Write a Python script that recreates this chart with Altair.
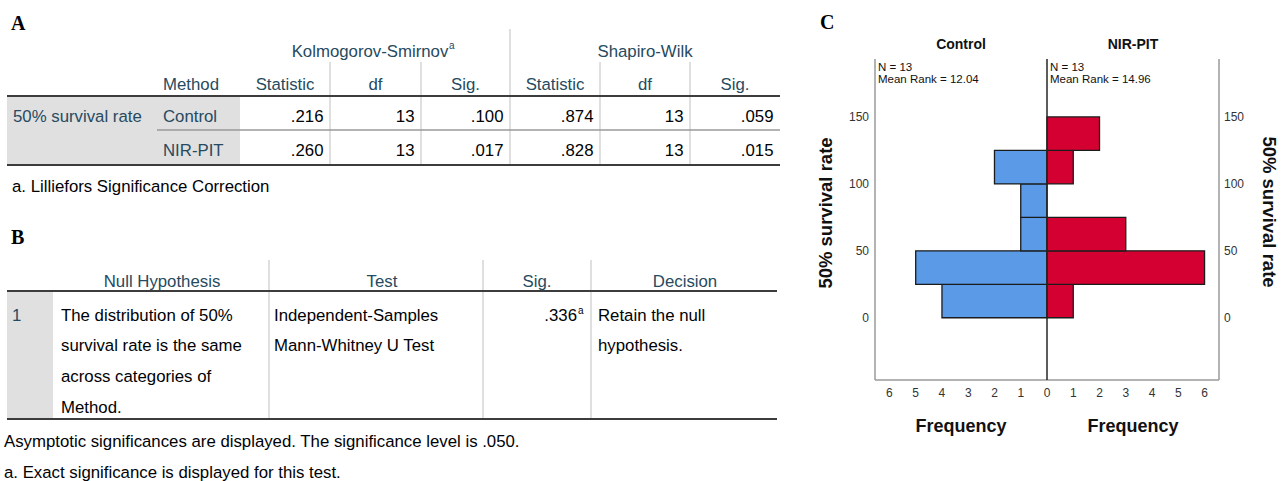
import altair as alt
import pandas as pd

# ---------------- data ----------------
# Table A (Tests of normality)
ks_title = "Kolmogorov-Smirnov"
sw_title = "Shapiro-Wilk"
col_headers = ["Statistic", "df", "Sig.", "Statistic", "df", "Sig."]
variable = "50% survival rate"
methods = ["Control", "NIR-PIT"]
ks_stat = [".216", ".260"]
ks_df = ["13", "13"]
ks_sig = [".100", ".017"]
sw_stat = [".874", ".828"]
sw_df = ["13", "13"]
sw_sig = [".059", ".015"]
footnote_a = "a. Lilliefors Significance Correction"

# Table B (Hypothesis test summary)
b_headers = ["Null Hypothesis", "Test", "Sig.", "Decision"]
null_hyp = ["The distribution of 50%", "survival rate is the same", "across categories of", "Method."]
test_name = ["Independent-Samples", "Mann-Whitney U Test"]
b_sig = ".336"
decision = ["Retain the null", "hypothesis."]
footnote_b = ["Asymptotic significances are displayed. The significance level is .050.",
              "a. Exact significance is displayed for this test."]

# Panel C (population-pyramid histogram)
bin_edges = [0, 25, 50, 75, 100, 125, 150]
control_freq = [4, 5, 1, 1, 2, 0]
nirpit_freq = [1, 6, 3, 0, 1, 2]
groups = ["Control", "NIR-PIT"]
n_text = ["N = 13", "N = 13"]
rank_text = ["Mean Rank = 12.04", "Mean Rank = 14.96"]
y_ticks = [0, 50, 100, 150]
x_ticks = [-6, -5, -4, -3, -2, -1, 0, 1, 2, 3, 4, 5, 6]

# ---------------- styles / layout ----------------
SANS = "Liberation Sans"
SERIF = "Liberation Serif"
HDR = "#264a60"
TXT = "#010205"
FS = 16.8
BLUE = "#5a9ae6"
RED = "#d50032"

cells = []


def cell(text, px, py, align="left", col=TXT, fs=FS, weight="normal", font=SANS):
    cells.append(dict(text=text, px=px, py=py, align=align, col=col, fs=fs, weight=weight, font=font))


# Table A
colA_bounds = [240, 330, 421, 510, 600, 690, 780]
rowA_y = [117, 151]
cell("A", 11, 24, fs=20, weight="bold", font=SERIF, col="#000000")
cell(ks_title, 370, 52, "center", HDR)
cell("a", 449, 46, col=HDR, fs=10)
cell(sw_title, 645, 52, "center", HDR)
cell("Method", 163, 85, col=HDR)
for i, h in enumerate(col_headers):
    cell(h, (colA_bounds[i] + colA_bounds[i + 1]) / 2, 85, "center", HDR)
cell(variable, 13, rowA_y[0], col=HDR)
for r, m in enumerate(methods):
    cell(m, 163, rowA_y[r], col=HDR)
    vals = [ks_stat[r], ks_df[r], ks_sig[r], sw_stat[r], sw_df[r], sw_sig[r]]
    for i, v in enumerate(vals):
        cell(v, colA_bounds[i + 1] - 6.5, rowA_y[r], "right")
cell(footnote_a, 12, 187)

# Table B
b_centers = [162, 382, 537, 685]
line_y = [316, 346, 377, 408]
cell("B", 11, 238, fs=20, weight="bold", font=SERIF, col="#000000")
for h, cx in zip(b_headers, b_centers):
    cell(h, cx, 282, "center", HDR)
cell("1", 12, line_y[0], col=HDR)
for t, yy in zip(null_hyp, line_y):
    cell(t, 61, yy)
for t, yy in zip(test_name, line_y):
    cell(t, 274, yy)
cell(b_sig, 577, line_y[0], "right")
cell("a", 578, line_y[0] - 5, fs=10)
for t, yy in zip(decision, line_y):
    cell(t, 598, yy)
cell(footnote_b[0], 4, 442)
cell(footnote_b[1], 4, 473)

# Panel label C
cell("C", 820, 23, fs=20, weight="bold", font=SERIF, col="#000000")

cells_df = pd.DataFrame(cells)

PX = alt.X("px:Q", scale=None, axis=None)
PY = alt.Y("py:Q", scale=None, axis=None)

text_layers = []
for (align, weight, font), sub in cells_df.groupby(["align", "weight", "font"]):
    text_layers.append(
        alt.Chart(sub).mark_text(align=align, baseline="middle", fontWeight=weight, font=font).encode(
            x=PX, y=PY, text="text:N",
            color=alt.Color("col:N", scale=None),
            size=alt.Size("fs:Q", scale=None),
        )
    )

# table shading
shade_df = pd.DataFrame([
    dict(x=7, x2=240, y=96, y2=165),
    dict(x=7, x2=53, y=291, y2=419),
])
shade = alt.Chart(shade_df).mark_rect(color="#e0e0e0").encode(
    x=alt.X("x:Q", scale=None, axis=None), x2="x2:Q",
    y=alt.Y("y:Q", scale=None, axis=None), y2="y2:Q")

# table rules
rules = []
for xx in [330, 421, 600, 690]:
    rules.append(dict(x=xx, x2=xx, y=62, y2=165, col="#d4d4d4", sw=1.5))
rules.append(dict(x=510, x2=510, y=29, y2=165, col="#d4d4d4", sw=1.5))
rules.append(dict(x=157, x2=780, y=130, y2=130, col="#9a9a9a", sw=1.5))
rules.append(dict(x=7, x2=780, y=96, y2=96, col="#3c3c3c", sw=2))
rules.append(dict(x=7, x2=780, y=165, y2=165, col="#3c3c3c", sw=2))
for xx in [269, 483, 591]:
    rules.append(dict(x=xx, x2=xx, y=260, y2=418, col="#d4d4d4", sw=1.5))
rules.append(dict(x=7, x2=777, y=291, y2=291, col="#3c3c3c", sw=2))
rules.append(dict(x=7, x2=777, y=419, y2=419, col="#3c3c3c", sw=2))
rules_df = pd.DataFrame(rules)
table_rules = alt.Chart(rules_df).mark_rule().encode(
    x=alt.X("x:Q", scale=None, axis=None), x2="x2:Q",
    y=alt.Y("y:Q", scale=None, axis=None), y2="y2:Q",
    color=alt.Color("col:N", scale=None),
    strokeWidth=alt.StrokeWidth("sw:Q", scale=None))

tables = alt.layer(shade, table_rules, *text_layers)

# ---------------- panel C ----------------
XMIN, XMAX = -6.55, 6.55
YMIN, YMAX = -46.5, 193.3
xs = alt.Scale(domain=[XMIN, XMAX], range=[875, 1219], nice=False, zero=False)
ys = alt.Scale(domain=[YMIN, YMAX], range=[380, 59], nice=False, zero=False)

bar_rows = []
for i in range(len(bin_edges) - 1):
    if control_freq[i] > 0:
        bar_rows.append(dict(group="Control", x0=0, x1=-control_freq[i], y0=bin_edges[i], y1=bin_edges[i + 1]))
    if nirpit_freq[i] > 0:
        bar_rows.append(dict(group="NIR-PIT", x0=0, x1=nirpit_freq[i], y0=bin_edges[i], y1=bin_edges[i + 1]))
bars_df = pd.DataFrame(bar_rows)

bars = alt.Chart(bars_df).mark_rect(stroke="#1b1b1b", strokeWidth=1.3).encode(
    x=alt.X("x0:Q", scale=xs, axis=None), x2="x1:Q",
    y=alt.Y("y0:Q", scale=ys, axis=None), y2="y1:Q",
    color=alt.Color("group:N", scale=alt.Scale(domain=groups, range=[BLUE, RED]), legend=None),
)

vframe_df = pd.DataFrame([dict(x=XMIN, y=YMIN, y2=YMAX), dict(x=XMAX, y=YMIN, y2=YMAX)])
vframe = alt.Chart(vframe_df).mark_rule(color="#9a9a9a", strokeWidth=1.5).encode(
    x=alt.X("x:Q", scale=xs, axis=None), y=alt.Y("y:Q", scale=ys, axis=None), y2="y2:Q")
hframe_df = pd.DataFrame([dict(x=XMIN, x2=XMAX, y=YMIN)])
hframe = alt.Chart(hframe_df).mark_rule(color="#9a9a9a", strokeWidth=1.5).encode(
    x=alt.X("x:Q", scale=xs, axis=None), x2="x2:Q", y=alt.Y("y:Q", scale=ys, axis=None))
center_df = pd.DataFrame([dict(x=0, y=YMIN, y2=YMAX)])
center = alt.Chart(center_df).mark_rule(color="#262626", strokeWidth=1.5).encode(
    x=alt.X("x:Q", scale=xs, axis=None), y=alt.Y("y:Q", scale=ys, axis=None), y2="y2:Q")

xt_df = pd.DataFrame({"v": x_ticks, "lab": [str(abs(v)) for v in x_ticks]})
xticks = alt.Chart(xt_df).mark_text(font=SANS, fontSize=12, color="#333333", baseline="middle").encode(
    x=alt.X("v:Q", scale=xs, axis=None), y=alt.value(393), text="lab:N")

yt_df = pd.DataFrame({"v": y_ticks, "lab": [str(v) for v in y_ticks]})
yticks_l = alt.Chart(yt_df).mark_text(font=SANS, fontSize=12, color="#333333", align="right", baseline="middle").encode(
    x=alt.value(869), y=alt.Y("v:Q", scale=ys, axis=None), text="lab:N")
yticks_r = alt.Chart(yt_df).mark_text(font=SANS, fontSize=12, color="#333333", align="left", baseline="middle").encode(
    x=alt.value(1224), y=alt.Y("v:Q", scale=ys, axis=None), text="lab:N")

grp_df = pd.DataFrame({"group": groups, "cx": [XMIN / 2, XMAX / 2], "edge": [XMIN, 0],
                       "n": n_text, "rank": rank_text})
grp_titles = alt.Chart(grp_df).mark_text(font=SANS, fontSize=14, fontWeight="bold", color="#111111").encode(
    x=alt.X("cx:Q", scale=xs, axis=None), y=alt.value(45), text="group:N")
freq_titles = alt.Chart(grp_df).mark_text(font=SANS, fontSize=18, fontWeight="bold", color="#111111").encode(
    x=alt.X("cx:Q", scale=xs, axis=None), y=alt.value(427), text=alt.value("Frequency"))
n_lbl = alt.Chart(grp_df).mark_text(font=SANS, fontSize=11.5, color="#111111", align="left", dx=3).encode(
    x=alt.X("edge:Q", scale=xs, axis=None), y=alt.value(68), text="n:N")
rank_lbl = alt.Chart(grp_df).mark_text(font=SANS, fontSize=11.5, color="#111111", align="left", dx=3).encode(
    x=alt.X("edge:Q", scale=xs, axis=None), y=alt.value(80), text="rank:N")

ytitle_l = alt.Chart(pd.DataFrame({"t": [variable]})).mark_text(
    font=SANS, fontSize=18.5, fontWeight="bold", color="#111111", angle=270, baseline="middle").encode(
    x=alt.value(826), y=alt.value(213), text="t:N")
ytitle_r = alt.Chart(pd.DataFrame({"t": [variable]})).mark_text(
    font=SANS, fontSize=18.5, fontWeight="bold", color="#111111", angle=90, baseline="middle").encode(
    x=alt.value(1269), y=alt.value(212), text="t:N")

hist = alt.layer(bars, vframe, hframe, center, xticks, yticks_l, yticks_r,
                 grp_titles, freq_titles, n_lbl, rank_lbl, ytitle_l, ytitle_r)

chart = alt.layer(tables, hist).resolve_scale(
    x="independent", y="independent", color="independent", size="independent"
).properties(
    width=1284, height=481, padding=0,
    autosize=alt.AutoSizeParams(type="none"),
    background="white",
).configure_view(strokeWidth=0)

chart.save("out.html", embed_options={"renderer": "svg", "actions": False})
